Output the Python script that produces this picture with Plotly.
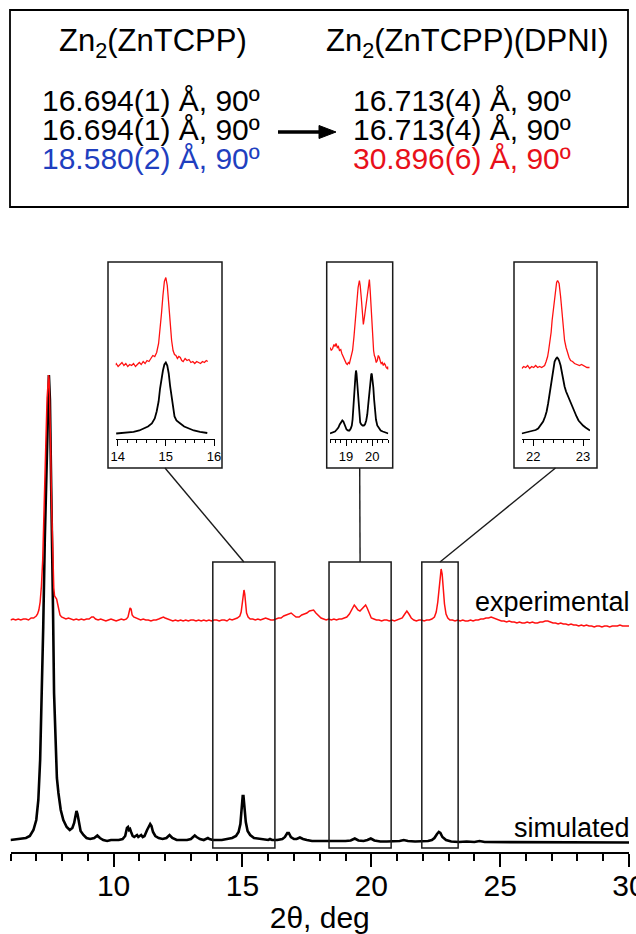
import plotly.graph_objects as go

W, H = 636, 934
FONT = "Liberation Sans, Arial, sans-serif"
RED = "#ff1010"
BLUE = "#1f3fbf"
TXT_RED = "#e8101a"

# ---------------- full-range powder patterns (2θ / deg, intensity / a.u.) ----------------
experimental = [
    (6.00, 0), (6.10, 1), (6.20, 0), (6.30, 1), (6.40, 0), (6.50, 1), (6.60, 1), (6.70, 0),
    (6.80, 2), (6.90, 2), (6.95, 3), (7.00, 4), (7.05, 6), (7.10, 10), (7.15, 18), (7.20, 34),
    (7.25, 60), (7.30, 100), (7.34, 145), (7.38, 185), (7.42, 222), (7.46, 242), (7.48, 245),
    (7.50, 240), (7.53, 215), (7.56, 170), (7.59, 120), (7.62, 80), (7.65, 50), (7.68, 32),
    (7.71, 24), (7.75, 22), (7.79, 21), (7.83, 16), (7.87, 9), (7.92, 5), (7.98, 3), (8.05, 2),
    (8.15, 1), (8.25, 2), (8.35, 1), (8.45, 0), (8.55, 1), (8.65, 0), (8.75, 1), (8.85, 0),
    (8.95, 1), (9.05, 1), (9.15, 3), (9.22, 3), (9.30, 1), (9.40, 0), (9.50, 1), (9.60, 0),
    (9.70, -1), (9.80, 0), (9.90, 1), (10.00, 0), (10.10, -1), (10.20, 0), (10.30, 1), (10.40, 0),
    (10.50, 1), (10.56, 3), (10.60, 10), (10.64, 12), (10.68, 11), (10.72, 5), (10.78, 3),
    (10.85, 2), (10.95, 1), (11.05, 0), (11.15, 1), (11.25, 0), (11.35, 0), (11.45, -1),
    (11.55, 0), (11.65, 0), (11.75, 1), (11.85, 2), (11.93, 3), (12.00, 2), (12.10, 1),
    (12.20, 0), (12.30, -1), (12.40, 0), (12.50, -1), (12.60, 0), (12.70, -1), (12.80, 0),
    (12.90, -1), (13.00, 0), (13.10, 0), (13.20, -1), (13.30, 0), (13.40, -1), (13.50, 0),
    (13.60, -1), (13.70, 0), (13.80, -1), (13.90, 0), (14.00, 0), (14.10, -1), (14.20, 0),
    (14.30, 0), (14.40, -1), (14.50, 1), (14.60, 0), (14.70, 1), (14.80, 2), (14.90, 4),
    (14.95, 8), (15.00, 18), (15.04, 28), (15.06, 30), (15.09, 26), (15.12, 16), (15.16, 7),
    (15.22, 3), (15.30, 1), (15.40, 1), (15.50, 0), (15.60, 1), (15.70, 0), (15.80, 1),
    (15.90, 2), (16.00, 1), (16.10, 0), (16.20, 0), (16.30, 1), (16.40, 2), (16.50, 2),
    (16.60, 4), (16.70, 5), (16.80, 6), (16.89, 7), (16.98, 5), (17.08, 3), (17.20, 3),
    (17.30, 5), (17.40, 6), (17.50, 7), (17.60, 9), (17.70, 10), (17.76, 10), (17.85, 7),
    (17.95, 4), (18.05, 2), (18.15, 1), (18.25, 0), (18.35, 1), (18.45, 0), (18.55, 1),
    (18.65, 0), (18.75, 1), (18.85, 1), (18.95, 2), (19.05, 3), (19.15, 6), (19.25, 11),
    (19.34, 15), (19.40, 13), (19.48, 10), (19.56, 9), (19.64, 11), (19.72, 14), (19.78, 15),
    (19.84, 12), (19.92, 6), (20.00, 2), (20.10, 1), (20.20, 0), (20.30, 0), (20.40, -1),
    (20.50, 0), (20.60, 0), (20.70, -1), (20.80, 0), (20.90, -1), (21.00, 0), (21.10, 1),
    (21.20, 2), (21.30, 6), (21.38, 9), (21.46, 6), (21.55, 2), (21.65, 0), (21.75, -1),
    (21.85, 0), (21.95, 0), (22.05, -1), (22.15, 0), (22.25, 0), (22.35, 1), (22.45, 3),
    (22.52, 8), (22.58, 18), (22.63, 33), (22.67, 45), (22.71, 51), (22.75, 46), (22.79, 32),
    (22.84, 16), (22.90, 6), (22.97, 2), (23.05, 0), (23.15, 0), (23.25, -1), (23.35, 0),
    (23.45, -1), (23.55, 0), (23.65, -1), (23.75, -1), (23.85, 0), (23.95, -1), (24.05, 0),
    (24.15, 0), (24.25, 1), (24.35, 1), (24.45, 2), (24.55, 2), (24.65, 3), (24.75, 2),
    (24.85, 1), (24.95, 0), (25.05, -1), (25.15, -1), (25.25, -2), (25.35, -1), (25.45, -2),
    (25.55, -2), (25.65, -3), (25.75, -2), (25.85, -3), (25.95, -3), (26.05, -2), (26.15, -3),
    (26.25, -2), (26.35, -3), (26.45, -3), (26.55, -2), (26.65, -2), (26.75, -1), (26.85, -1),
    (26.95, -2), (27.05, -3), (27.15, -3), (27.25, -4), (27.35, -3), (27.45, -4), (27.55, -4),
    (27.65, -5), (27.75, -4), (27.85, -5), (27.95, -5), (28.05, -6), (28.15, -5), (28.25, -6),
    (28.35, -5), (28.45, -6), (28.55, -6), (28.65, -7), (28.75, -6), (28.85, -6), (28.95, -7),
    (29.05, -6), (29.15, -6), (29.25, -7), (29.35, -6), (29.45, -6), (29.55, -6), (29.65, -5),
    (29.75, -6), (29.85, -6), (29.95, -6), (30.00, -6),
]

simulated = [
    (6.00, 0), (6.20, 0.5), (6.40, 1), (6.60, 2), (6.75, 4), (6.89, 10), (7.00, 20), (7.08, 40),
    (7.15, 80), (7.21, 140), (7.27, 213), (7.33, 300), (7.40, 380), (7.45, 445), (7.49, 465),
    (7.53, 440), (7.57, 380), (7.60, 347), (7.65, 230), (7.69, 147), (7.75, 90), (7.80, 62),
    (7.86, 47), (7.95, 30), (8.05, 20), (8.18, 13), (8.30, 10), (8.40, 12), (8.47, 17),
    (8.52, 25), (8.56, 29), (8.60, 26), (8.65, 17), (8.72, 9), (8.83, 5), (8.95, 2), (9.09, 1),
    (9.25, 2), (9.37, 4.5), (9.47, 2), (9.60, 0), (9.75, -1), (9.90, 0), (10.05, 0), (10.20, 0),
    (10.35, 1), (10.45, 4), (10.52, 12), (10.56, 13), (10.60, 10), (10.64, 11), (10.68, 8),
    (10.74, 4), (10.80, 3), (10.86, 4), (10.91, 5), (10.96, 3), (11.02, 4), (11.07, 5),
    (11.13, 3), (11.20, 4), (11.30, 10), (11.37, 13), (11.42, 16), (11.47, 14), (11.53, 8),
    (11.62, 4), (11.75, 2), (11.90, 1), (12.05, 2), (12.17, 5), (12.28, 2), (12.45, 0),
    (12.65, 0), (12.85, 0), (13.00, 1), (13.10, 3), (13.15, 4.5), (13.22, 3), (13.35, 1),
    (13.50, 0), (13.60, 1), (13.66, 2), (13.72, 1), (13.85, 0), (14.00, 0), (14.20, 0),
    (14.40, 1), (14.60, 2), (14.75, 4), (14.85, 8), (14.92, 16), (14.97, 30), (15.01, 44),
    (15.04, 44), (15.08, 32), (15.13, 18), (15.20, 9), (15.30, 5), (15.45, 2), (15.65, 1),
    (15.85, 0), (16.00, 0), (16.07, 1), (16.15, 0), (16.35, 0), (16.55, 1), (16.65, 3),
    (16.74, 7), (16.80, 7), (16.88, 3), (17.00, 1), (17.10, 1), (17.23, 2.5), (17.35, 1),
    (17.50, 0), (17.70, -1), (17.90, -1), (18.10, -1), (18.30, -1.5), (18.50, -1.5),
    (18.70, -1), (18.85, -1), (19.00, -1), (19.20, -0.5), (19.36, 1.5), (19.50, -0.5),
    (19.70, -1), (19.85, 0), (19.98, 1.5), (20.12, -0.5), (20.35, -1.5), (20.60, -1.5),
    (20.85, -1.5), (21.10, -1), (21.26, 0), (21.42, -1), (21.70, -1.5), (21.95, -1.5),
    (22.20, -1), (22.35, 0), (22.45, 2), (22.55, 6), (22.62, 8), (22.68, 7), (22.76, 3),
    (22.90, 0), (23.10, -1.5), (23.40, -2), (23.70, -1.5), (24.00, -2), (24.20, -1),
    (24.40, -2), (24.70, -2), (25.00, -2.5), (25.40, -2), (25.80, -2.5), (26.20, -2.5),
    (26.60, -2), (27.00, -2.5), (27.40, -2), (27.80, -2.5), (28.20, -2.5), (28.60, -2),
    (29.00, -2.5), (29.40, -2.5), (29.70, -2), (30.00, -2.5),
]

# ---------------- enlarged windows ----------------
win15_experimental = [
    (13.93, 0), (13.97, 2), (14.01, -1), (14.05, 1), (14.09, 3), (14.13, 0), (14.17, 2),
    (14.21, -1), (14.25, 1), (14.29, 0), (14.33, 2), (14.37, -1), (14.41, 1), (14.45, 3),
    (14.49, 1), (14.53, 4), (14.57, 2), (14.61, 5), (14.65, 4), (14.69, 7), (14.73, 10),
    (14.77, 9), (14.81, 13), (14.85, 22), (14.88, 35), (14.91, 52), (14.94, 70), (14.97, 84),
    (15.00, 88), (15.03, 80), (15.06, 62), (15.09, 40), (15.12, 25), (15.15, 15), (15.18, 11),
    (15.21, 10), (15.24, 7), (15.27, 9), (15.30, 8), (15.33, 5), (15.36, 4), (15.40, 7),
    (15.44, 5), (15.48, 6), (15.52, 3), (15.56, 4), (15.60, 2), (15.64, 4), (15.68, 3),
    (15.72, 2), (15.76, 4), (15.80, 3), (15.84, 5), (15.87, 4),
]
win15_simulated = [
    (13.97, 0), (14.15, 0.7), (14.33, 1.7), (14.45, 3), (14.54, 5), (14.63, 7), (14.71, 10),
    (14.77, 15), (14.81, 22), (14.85, 32), (14.88, 45), (14.91, 55), (14.94, 63), (14.97, 69),
    (15.00, 71), (15.03, 68), (15.06, 60), (15.09, 47), (15.12, 35), (15.15, 24), (15.18, 17),
    (15.22, 13), (15.26, 11), (15.30, 10), (15.38, 7), (15.47, 5), (15.58, 3), (15.71, 1.7),
    (15.86, 0.5),
]
win19_experimental = [
    (18.39, 21), (18.44, 18), (18.49, 20), (18.54, 24), (18.58, 22), (18.62, 25), (18.67, 21),
    (18.71, 22), (18.75, 18), (18.80, 19), (18.84, 15), (18.90, 11), (18.94, 9), (18.97, 8),
    (19.01, 5), (19.05, 4), (19.09, 6), (19.13, 5), (19.17, 9), (19.21, 12), (19.25, 18),
    (19.30, 31), (19.35, 48), (19.41, 68), (19.46, 81), (19.51, 88), (19.54, 83), (19.58, 71),
    (19.62, 58), (19.66, 44), (19.70, 51), (19.75, 61), (19.80, 74), (19.85, 86), (19.89, 89),
    (19.92, 78), (19.96, 58), (20.00, 34), (20.05, 18), (20.08, 13), (20.11, 11), (20.15, 6),
    (20.19, 8), (20.23, 13), (20.27, 11), (20.31, 7), (20.34, 5), (20.38, 6), (20.42, 3),
    (20.46, 5), (20.49, 4), (20.53, 1), (20.57, 0), (20.60, 2), (20.62, -1),
]
win19_simulated = [
    (18.39, 0), (18.50, 1), (18.58, 2), (18.65, 4), (18.71, 6), (18.76, 9), (18.80, 11),
    (18.86, 13), (18.90, 12), (18.94, 9), (18.98, 6), (19.02, 4), (19.08, 3), (19.13, 3),
    (19.18, 5), (19.22, 8), (19.25, 14), (19.28, 23), (19.31, 35), (19.33, 46), (19.36, 58),
    (19.38, 63), (19.40, 60), (19.43, 49), (19.45, 38), (19.48, 26), (19.51, 17), (19.54, 11),
    (19.58, 9), (19.63, 8), (19.68, 8), (19.72, 9), (19.77, 13), (19.81, 19), (19.85, 30),
    (19.89, 43), (19.93, 55), (19.96, 59), (19.98, 60), (20.01, 55), (20.04, 46), (20.07, 34),
    (20.10, 23), (20.14, 14), (20.19, 8), (20.25, 5), (20.32, 3), (20.40, 2), (20.48, 1),
    (20.61, 0),
]
win22_experimental = [
    (21.77, 0), (21.81, 2), (21.85, 1), (21.89, 3), (21.93, 0), (21.97, 2), (22.01, 1),
    (22.05, 3), (22.09, 1), (22.13, 2), (22.17, 1), (22.20, 2), (22.23, 3), (22.26, 7),
    (22.29, 12), (22.31, 18), (22.33, 25), (22.36, 36), (22.38, 48), (22.40, 58), (22.42, 68),
    (22.45, 82), (22.47, 86), (22.49, 88), (22.52, 85), (22.55, 72), (22.57, 60), (22.59, 48),
    (22.61, 37), (22.63, 28), (22.66, 21), (22.69, 15), (22.72, 11), (22.75, 8), (22.79, 7),
    (22.83, 5), (22.87, 4), (22.93, 3), (22.97, 4), (23.03, 2), (23.08, 1), (23.13, 1),
]
win22_simulated = [
    (21.77, 0), (21.87, 1), (21.97, 2), (22.05, 3.5), (22.10, 5), (22.15, 8), (22.20, 12),
    (22.24, 17), (22.27, 22), (22.30, 30), (22.33, 40), (22.36, 50), (22.39, 60), (22.41, 67),
    (22.43, 72), (22.46, 75), (22.48, 76), (22.50, 75), (22.52, 73), (22.55, 68), (22.57, 62),
    (22.60, 54), (22.63, 47), (22.66, 42), (22.70, 37), (22.74, 33), (22.77, 30), (22.80, 26),
    (22.83, 22), (22.87, 17), (22.91, 13), (22.96, 10), (23.00, 8), (23.05, 6), (23.10, 4),
    (23.14, 3),
]

header_left = "Zn<sub>2</sub>(ZnTCPP)"
header_right = "Zn<sub>2</sub>(ZnTCPP)(DPNI)"
cells_left = ["16.694(1) Å, 90º", "16.694(1) Å, 90º", "18.580(2) Å, 90º"]
cells_right = ["16.713(4) Å, 90º", "16.713(4) Å, 90º", "30.896(6) Å, 90º"]
colors_left = ["black", "black", BLUE]
colors_right = ["black", "black", TXT_RED]
pattern_labels = ["experimental", "simulated"]


def px(xp):
    return xp / W


def py(yp):
    return 1 - yp / H


def split(points, offset=0.0):
    xs = [p[0] for p in points]
    ys = [p[1] + offset for p in points]
    return xs, ys


fig = go.Figure()

# main pattern: simulated (black) at the bottom, experimental (red) stacked above
EXP_SHIFT = 220
x, y = split(simulated)
fig.add_trace(go.Scatter(x=x, y=y, mode="lines", line=dict(color="black", width=2.6),
                         xaxis="x", yaxis="y", hoverinfo="skip"))
x, y = split(experimental, EXP_SHIFT)
fig.add_trace(go.Scatter(x=x, y=y, mode="lines", line=dict(color=RED, width=1.5),
                         xaxis="x", yaxis="y", hoverinfo="skip"))

# enlarged windows: (simulated, experimental, red shift, x range, box px, axis px)
windows = [
    (win15_simulated, win15_experimental, 68, [13.96, 16.02], (108, 222), (115.7, 215.0)),
    (win19_simulated, win19_experimental, 65, [18.39, 20.61], (326.7, 392.7), (330.0, 388.3)),
    (win22_simulated, win22_experimental, 65, [21.77, 23.14], (514, 597), (521.7, 590.0)),
]
# main-plot frames around the enlarged 2θ regions
frames = [(13.85, 16.26), (18.36, 20.77), (21.96, 23.37)]

AX_Y, TOP_Y = 438.5, 268.0
layout_axes = {}
shapes = []
for i, (sim, exp, shift, xr, box, axpx) in enumerate(windows, start=2):
    xs, ys = split(sim)
    fig.add_trace(go.Scatter(x=xs, y=ys, mode="lines", line=dict(color="black", width=1.8),
                             xaxis=f"x{i}", yaxis=f"y{i}", hoverinfo="skip"))
    xs, ys = split(exp, shift)
    fig.add_trace(go.Scatter(x=xs, y=ys, mode="lines", line=dict(color=RED, width=1.3),
                             xaxis=f"x{i}", yaxis=f"y{i}", hoverinfo="skip"))
    base = 5.0
    layout_axes[f"xaxis{i}"] = dict(
        domain=[px(axpx[0]), px(axpx[1])], anchor=f"y{i}", range=xr,
        showline=True, linecolor="black", linewidth=1, showgrid=False, zeroline=False,
        ticks="outside", ticklen=6, tickwidth=1, tickcolor="black", dtick=1,
        tickfont=dict(family=FONT, size=13, color="black"),
        minor=dict(dtick=0.2, ticks="outside", ticklen=3, tickwidth=1, tickcolor="black"),
    )
    layout_axes[f"yaxis{i}"] = dict(
        domain=[py(AX_Y), py(TOP_Y)], anchor=f"x{i}", visible=False,
        range=[-base, AX_Y - TOP_Y - base],
    )
    shapes.append(dict(type="rect", xref="paper", yref="paper",
                       x0=px(box[0]), x1=px(box[1]), y0=py(468), y1=py(262),
                       line=dict(color="#1a1a1a", width=1.5)))
    f0, f1 = frames[i - 2]
    shapes.append(dict(type="rect", xref="x", yref="paper", x0=f0, x1=f1,
                       y0=py(848), y1=py(562), line=dict(color="#1a1a1a", width=1.5)))

# connectors from the enlarged windows to their frames
for (b0, b1), (f0, f1) in zip([w[4] for w in windows], frames):
    xpix = 10.5 + ((f0 + f1) / 2 - 6) * (629 - 10.5) / 24
    shapes.append(dict(type="line", xref="paper", yref="paper",
                       x0=px((b0 + b1) / 2), y0=py(468), x1=px(xpix), y1=py(562),
                       line=dict(color="#1a1a1a", width=1.4)))

# lattice-parameter box and arrow
shapes.append(dict(type="rect", xref="paper", yref="paper", x0=px(10), x1=px(628),
                   y0=py(207), y1=py(10), line=dict(color="black", width=1.8)))
shapes.append(dict(type="line", xref="paper", yref="paper", x0=px(278), x1=px(322),
                   y0=py(132), y1=py(132), line=dict(color="black", width=3.5)))
shapes.append(dict(type="path", xref="paper", yref="paper",
                   path=f"M {px(319)} {py(125.5)} L {px(336)} {py(132)} L {px(319)} {py(138.5)} Z",
                   fillcolor="black", line=dict(color="black", width=1)))

annotations = []
annotations.append(dict(text=header_left, x=px(153), y=py(43), xref="paper", yref="paper",
                        showarrow=False, xanchor="center", yanchor="middle",
                        font=dict(family=FONT, size=31, color="black")))
annotations.append(dict(text=header_right, x=px(467), y=py(43), xref="paper", yref="paper",
                        showarrow=False, xanchor="center", yanchor="middle",
                        font=dict(family=FONT, size=31, color="black")))
for row, yy in enumerate([100, 130, 159]):
    annotations.append(dict(text=cells_left[row], x=px(150.5), y=py(yy), xref="paper",
                            yref="paper", showarrow=False, xanchor="center", yanchor="middle",
                            font=dict(family=FONT, size=30, color=colors_left[row])))
    annotations.append(dict(text=cells_right[row], x=px(462), y=py(yy), xref="paper",
                            yref="paper", showarrow=False, xanchor="center", yanchor="middle",
                            font=dict(family=FONT, size=30, color=colors_right[row])))

for label, yy in zip(pattern_labels, [602, 828]):
    annotations.append(dict(text=label, x=px(632), y=py(yy), xref="paper", yref="paper",
                            showarrow=False, xanchor="right", yanchor="middle",
                            font=dict(family=FONT, size=27, color="black")))

fig.update_layout(
    width=W, height=H, margin=dict(l=0, r=0, t=0, b=0, autoexpand=False),
    paper_bgcolor="white", plot_bgcolor="rgba(0,0,0,0)", showlegend=False,
    xaxis=dict(domain=[px(10.5), px(629)], anchor="y", range=[6, 30],
               showline=True, linecolor="black", linewidth=1.5, showgrid=False, zeroline=False,
               ticks="outside", ticklen=13, tickwidth=1.5, tickcolor="black",
               tick0=10, dtick=5, ticklabeloverflow="allow", ticklabelstandoff=-7,
               tickfont=dict(family=FONT, size=30, color="black"),
               minor=dict(dtick=1, ticks="outside", ticklen=7, tickwidth=1.5, tickcolor="black"),
               title=dict(text="2θ, deg", font=dict(family=FONT, size=30, color="black"),
                          standoff=0)),
    yaxis=dict(domain=[py(852), py(362)], anchor="x", visible=False, range=[-12, 478]),
    shapes=shapes, annotations=annotations,
    **layout_axes,
)

fig.write_html("out.html")
